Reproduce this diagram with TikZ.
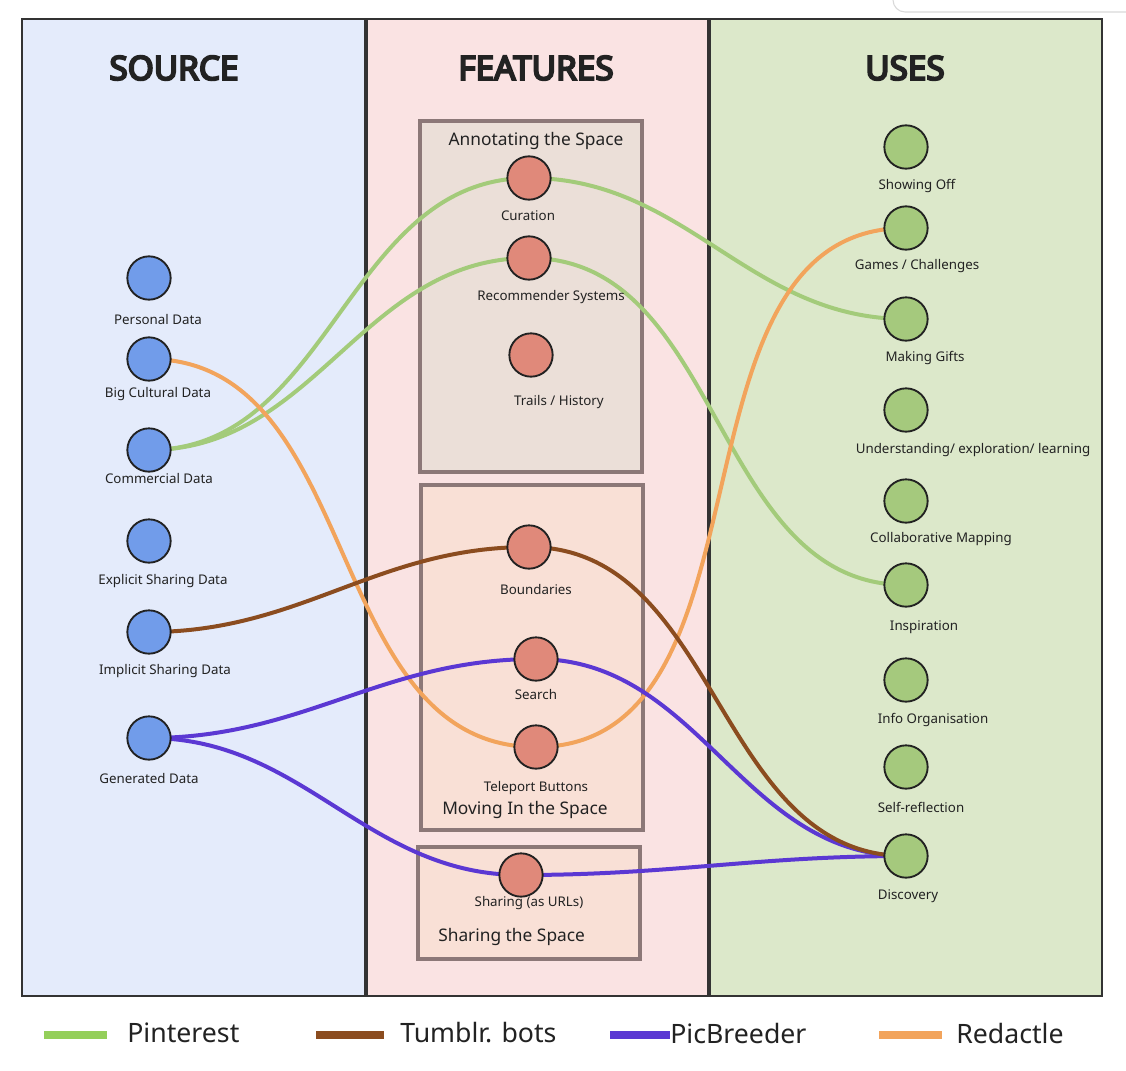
\documentclass[tikz,border=0pt]{standalone}
\usepackage{fontspec}
\setmainfont{Noto Sans}
\newfontfamily\hdrfont{Noto Sans}[FakeBold=6]
\definecolor{srcbg}{HTML}{E4EBFB}
\definecolor{featbg}{HTML}{FAE3E3}
\definecolor{usebg}{HTML}{DCE8CA}
\definecolor{annbg}{HTML}{EBDFD8}
\definecolor{movbg}{HTML}{F9E0D6}
\definecolor{boxline}{HTML}{8C7878}
\definecolor{panline}{HTML}{333333}
\definecolor{srcfill}{HTML}{719CEA}
\definecolor{featfill}{HTML}{E0897A}
\definecolor{usefill}{HTML}{A5C97D}
\definecolor{cpin}{HTML}{A3CB7A}
\definecolor{cred}{HTML}{F2A45C}
\definecolor{ctum}{HTML}{8B4C1F}
\definecolor{cpic}{HTML}{5B38D3}
\definecolor{legpin}{HTML}{94CF5A}
\definecolor{txt}{HTML}{222222}
\pgfdeclarelayer{bg}
\pgfdeclarelayer{edges}
\pgfsetlayers{bg,edges,main}
\tikzset{
  dot/.style={circle,draw=txt,line width=1.4pt,minimum size=32.5pt,inner sep=0pt},
  srcnode/.style={dot,fill=srcfill},
  featnode/.style={dot,fill=featfill},
  usenode/.style={dot,fill=usefill},
  lbl/.style={text=txt,font=\fontsize{10}{12}\selectfont,inner sep=0pt},
  hdr/.style={text=txt,font=\hdrfont\fontsize{25}{30}\selectfont,inner sep=0pt},
  boxtitle/.style={text=txt,font=\fontsize{13}{16}\selectfont,inner sep=0pt},
  legtxt/.style={text=txt,font=\fontsize{20}{24}\selectfont,inner sep=0pt,anchor=west},
  grp/.style={draw=boxline,line width=2.3pt},
  link/.style={line width=3pt},
  pin/.style={link,draw=cpin},
  red/.style={link,draw=cred},
  tum/.style={link,draw=ctum},
  pic/.style={link,draw=cpic},
  legline/.style={line width=5.5pt},
  conn/.style={out=0,in=180}
}
\begin{document}
\begin{tikzpicture}[x=0.75pt,y=-0.75pt]
\useasboundingbox (0,0) rectangle (1126,1070);
\begin{pgfonlayer}{bg}
  \fill[white] (0,0) rectangle (1126,1070);
  \draw[draw=black!15,line width=0.8pt,rounded corners=9pt] (893,-2) -- (893,12) -- (1130,12);
  \fill[srcbg] (22,19) rectangle (366,996);
  \fill[featbg] (366,19) rectangle (709,996);
  \fill[usebg] (709,19) rectangle (1102,996);
  \draw[panline,line width=1.6pt] (22,19) rectangle (1102,996);
  \draw[panline,line width=2.4pt] (366,19) -- (366,996);
  \draw[panline,line width=2.4pt] (709,19) -- (709,996);
  \fill[annbg] (420,121) rectangle (642,472);
  \draw[grp] (420,121) rectangle (642,472);
  \fill[movbg] (421,485) rectangle (643,830);
  \draw[grp] (421,485) rectangle (643,830);
  \fill[movbg] (418,847) rectangle (640,959);
  \draw[grp] (418,847) rectangle (640,959);
\end{pgfonlayer}
% headers
\node[hdr] (hsrc) at (174,68) {SOURCE};
\node[hdr] (hfeat) at (536,68) {FEATURES};
\node[hdr] (huse) at (905,68) {USES};
% group titles
\node[boxtitle] (tann) at (536,141) {Annotating the Space};
\node[boxtitle,anchor=west] (tmov) at (442,810) {Moving In the Space};
\node[boxtitle,anchor=west] (tsha) at (438,937) {Sharing the Space};
% source nodes
\node[srcnode] (pd) at (149,278) {};
\node[lbl] (pdl) at (158,319) {Personal Data};
\node[srcnode] (bc) at (149,359) {};
\node[lbl] (bcl) at (158,394) {Big Cultural Data};
\node[srcnode] (cd) at (149,450) {};
\node[lbl] (cdl) at (159,478) {Commercial Data};
\node[srcnode] (es) at (149,541) {};
\node[lbl] (esl) at (163,581) {Explicit Sharing Data};
\node[srcnode] (is) at (149,632) {};
\node[lbl] (isl) at (165,671) {Implicit Sharing Data};
\node[srcnode] (gd) at (149,738) {};
\node[lbl] (gdl) at (149,778) {Generated Data};
% feature nodes
\node[featnode] (cur) at (529,178) {};
\node[lbl] (curl) at (528,216) {Curation};
\node[featnode] (rec) at (529,258) {};
\node[lbl] (recl) at (551,297) {Recommender Systems};
\node[featnode] (tra) at (531,355) {};
\node[lbl] (tral) at (559,402) {Trails / History};
\node[featnode] (bou) at (529,547) {};
\node[lbl] (boul) at (536,589) {Boundaries};
\node[featnode] (sea) at (536,659) {};
\node[lbl] (seal) at (536,694) {Search};
\node[featnode] (tel) at (536,747) {};
\node[lbl] (tell) at (536,788) {Teleport Buttons};
\node[featnode] (sha) at (521,875) {};
\node[lbl] (shal) at (529,903) {Sharing (as URLs)};
% use nodes
\node[usenode] (sho) at (906,147) {};
\node[lbl] (shol) at (917,186) {Showing Off};
\node[usenode] (gam) at (906,228) {};
\node[lbl] (gaml) at (917,266) {Games / Challenges};
\node[usenode] (mak) at (906,319) {};
\node[lbl] (makl) at (925,358) {Making Gifts};
\node[usenode] (und) at (906,410) {};
\node[lbl] (undl) at (973,450) {Understanding/ exploration/ learning};
\node[usenode] (col) at (906,501) {};
\node[lbl] (coll) at (941,539) {Collaborative Mapping};
\node[usenode] (ins) at (906,585) {};
\node[lbl] (insl) at (924,627) {Inspiration};
\node[usenode] (inf) at (906,680) {};
\node[lbl] (infl) at (933,720) {Info Organisation};
\node[usenode] (sel) at (906,767) {};
\node[lbl] (sell) at (921,807) {Self-reflection};
\node[usenode] (dis) at (906,856) {};
\node[lbl] (disl) at (908,896) {Discovery};
% connectors
\begin{pgfonlayer}{edges}
  \draw[pin] (cd.center) to[conn] (cur.center);
  \draw[pin] (cur.center) to[conn] (mak.center);
  \draw[pin] (cd.center) to[conn] (rec.center);
  \draw[pin] (rec.center) to[conn] (ins.center);
  \draw[red] (bc.center) to[conn] (tel.center);
  \draw[red] (tel.center) to[conn] (gam.center);
  \draw[tum] (is.center) to[conn] (bou.center);
  \draw[pic] (gd.center) to[conn] (sea.center);
  \draw[pic] (sea.center) to[conn] (dis.center);
  \draw[pic] (gd.center) to[conn] (sha.center);
  \draw[pic] (sha.center) to[conn] (dis.center);
  \draw[tum] (bou.center) to[conn] (dis.center);
\end{pgfonlayer}
% legend
\coordinate (lg1a) at (44,1035); \coordinate (lg1b) at (107,1035);
\draw[legline,draw=legpin] (lg1a) -- (lg1b);
\node[legtxt] (lt1) at (127,1033) {Pinterest};
\coordinate (lg2a) at (316,1035); \coordinate (lg2b) at (384,1035);
\draw[legline,draw=ctum] (lg2a) -- (lg2b);
\node[legtxt] (lt2) at (400,1033) {Tumblr. bots};
\coordinate (lg3a) at (610,1035); \coordinate (lg3b) at (670,1035);
\draw[legline,draw=cpic] (lg3a) -- (lg3b);
\node[legtxt] (lt3) at (670,1033) {PicBreeder};
\coordinate (lg4a) at (879,1035); \coordinate (lg4b) at (942,1035);
\draw[legline,draw=cred] (lg4a) -- (lg4b);
\node[legtxt] (lt4) at (956,1033) {Redactle};
\end{tikzpicture}
\end{document}
